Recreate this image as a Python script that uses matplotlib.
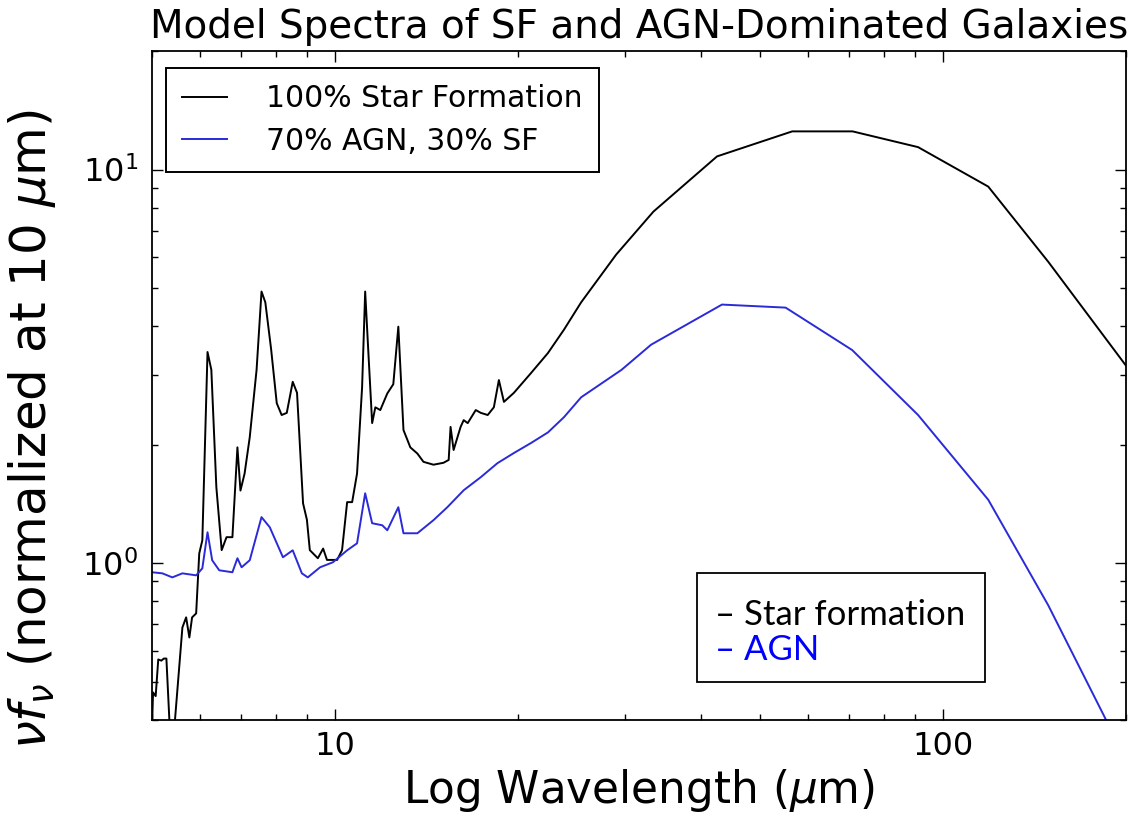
import matplotlib
matplotlib.use("Agg")
import matplotlib.pyplot as plt
from matplotlib.ticker import LogLocator, NullFormatter, FixedFormatter, FixedLocator, LogFormatterSciNotation
from matplotlib.patches import Rectangle

# ---- data ----
wl_sf = [5.0, 5.02, 5.07, 5.12, 5.18, 5.23, 5.28, 5.34, 5.44, 5.61, 5.69, 5.76, 5.82,
         5.91, 5.98, 6.05, 6.17, 6.26, 6.38, 6.51, 6.63, 6.78, 6.91, 6.99, 7.10, 7.24,
         7.43, 7.57, 7.68, 7.85, 8.02, 8.17, 8.33, 8.52, 8.66, 8.86, 8.99, 9.09, 9.37,
         9.56, 9.70, 10.08, 10.27, 10.47, 10.67, 10.87, 11.08, 11.21, 11.35, 11.51,
         11.65, 11.87, 12.0, 12.19, 12.47, 12.71, 12.96, 13.15, 13.30, 13.66, 13.98,
         14.52, 15.08, 15.38, 15.49, 15.67, 16.09, 16.28, 16.53, 17.04, 17.37, 17.83,
         18.25, 18.60, 18.96, 19.69, 21.0, 22.4, 23.8, 25.4, 29.0, 33.4, 42.5, 56.5,
         71.0, 91.0, 118.7, 149.0, 203.0]
flux_sf = [0.38, 0.47, 0.46, 0.57, 0.566, 0.573, 0.573, 0.40, 0.38, 0.687, 0.729, 0.648,
           0.729, 0.746, 1.06, 1.144, 3.44, 3.10, 1.56, 1.08, 1.165, 1.165, 1.97, 1.53,
           1.69, 2.09, 3.10, 4.9, 4.6, 3.5, 2.55, 2.38, 2.41, 2.89, 2.71, 1.42, 1.29,
           1.08, 1.03, 1.09, 1.02, 1.02, 1.08, 1.43, 1.43, 1.69, 2.80, 4.9, 3.4, 2.27,
           2.49, 2.45, 2.55, 2.70, 2.85, 3.99, 2.18, 2.06, 1.97, 1.90, 1.81, 1.78, 1.80,
           1.83, 2.22, 1.94, 2.22, 2.31, 2.27, 2.45, 2.41, 2.38, 2.49, 2.92, 2.57, 2.71,
           3.04, 3.42, 3.92, 4.60, 6.08, 7.82, 10.8, 12.5, 12.5, 11.4, 9.05, 5.83, 3.08]

wl_agn = [5.0, 5.2, 5.4, 5.61, 5.91, 6.05, 6.17, 6.28, 6.45, 6.78, 6.91, 7.02, 7.24,
          7.57, 7.81, 8.21, 8.52, 8.82, 9.02, 9.45, 9.92, 10.47, 10.87, 11.21, 11.51,
          11.96, 12.19, 12.71, 12.96, 13.66, 14.52, 15.3, 16.28, 17.37, 18.5, 19.69,
          21.0, 22.4, 23.8, 25.4, 29.6, 33.1, 43.3, 55.1, 70.9, 91.0, 118.7, 149.0,
          184.0, 203.0]
flux_agn = [0.949, 0.943, 0.921, 0.943, 0.932, 0.971, 1.199, 1.018, 0.96, 0.949, 1.03,
            0.977, 1.018, 1.31, 1.235, 1.036, 1.079, 0.943, 0.921, 0.977, 1.006, 1.079,
            1.124, 1.506, 1.264, 1.249, 1.213, 1.388, 1.192, 1.192, 1.287, 1.388, 1.533,
            1.655, 1.796, 1.906, 2.02, 2.15, 2.35, 2.64, 3.10, 3.59, 4.54, 4.46, 3.48,
            2.38, 1.45, 0.782, 0.41, 0.30]

labels = ["100% Star Formation", "70% AGN, 30% SF"]
box_labels = ["\u2013 Star formation", "\u2013 AGN"]
x_ticks = [10, 100]
x_ticklabels = ["10", "100"]

# ---- figure ----
fig = plt.figure(figsize=(11.4, 8.16), dpi=100)
ax = fig.add_axes([152/1140, 1 - 720/816, (1126-152)/1140, (720-51)/816])

ax.plot(wl_sf, flux_sf, color="black", lw=1.4, label=labels[0])
ax.plot(wl_agn, flux_agn, color="#2a2ad8", lw=1.4, label=labels[1])

ax.set_xscale("log")
ax.set_yscale("log")
ax.set_xlim(5, 200)
ax.set_ylim(0.4, 20)

ax.xaxis.set_major_locator(FixedLocator(x_ticks))
ax.xaxis.set_major_formatter(FixedFormatter(x_ticklabels))
ax.xaxis.set_minor_locator(LogLocator(base=10, subs=range(2, 10)))
ax.xaxis.set_minor_formatter(NullFormatter())
ax.yaxis.set_major_locator(LogLocator(base=10))
ax.yaxis.set_major_formatter(LogFormatterSciNotation())
ax.yaxis.set_minor_locator(LogLocator(base=10, subs=range(2, 10)))
ax.yaxis.set_minor_formatter(NullFormatter())

ax.tick_params(which="both", direction="in", top=True, right=True, width=1)
ax.tick_params(which="major", length=8, labelsize=23)
ax.tick_params(which="minor", length=4)
ax.tick_params(axis="x", which="major", pad=8)
ax.tick_params(axis="y", which="major", pad=10)
for s in ax.spines.values():
    s.set_linewidth(1.3)

ax.set_title("Model Spectra of SF and AGN-Dominated Galaxies", fontsize=28, pad=9)
ax.set_xlabel(r"Log Wavelength ($\mu$m)", fontsize=31.5)
ax.set_ylabel(r"$\nu f_\nu$ (normalized at 10 $\mu$m)", fontsize=36)
ax.xaxis.set_label_coords(0.5, -0.07)
ax.yaxis.set_label_coords(-0.097, 0.435)

leg = ax.legend(loc="upper left", bbox_to_anchor=(0.0144, 0.9746), borderaxespad=0,
                fontsize=21.5, handlelength=1.5, handletextpad=1.3, labelspacing=0.45,
                borderpad=0.55, fancybox=False, framealpha=1)
leg.get_frame().set_edgecolor("black")
leg.get_frame().set_linewidth(1.4)

# annotation box at lower right
ax.add_patch(Rectangle((0.5595, 0.0568), 0.2957, 0.1629, transform=ax.transAxes,
                       facecolor="white", edgecolor="black", lw=1.3, zorder=5))
ax.text(0.578, 0.142, box_labels[0], transform=ax.transAxes, fontsize=25,
        family=["Lato", "DejaVu Sans"], color="black", va="baseline", ha="left", zorder=6)
ax.text(0.578, 0.0897, box_labels[1], transform=ax.transAxes, fontsize=25,
        family=["Lato", "DejaVu Sans"], color="#0000ff", va="baseline", ha="left", zorder=6)

fig.savefig("out.png", dpi=100)
